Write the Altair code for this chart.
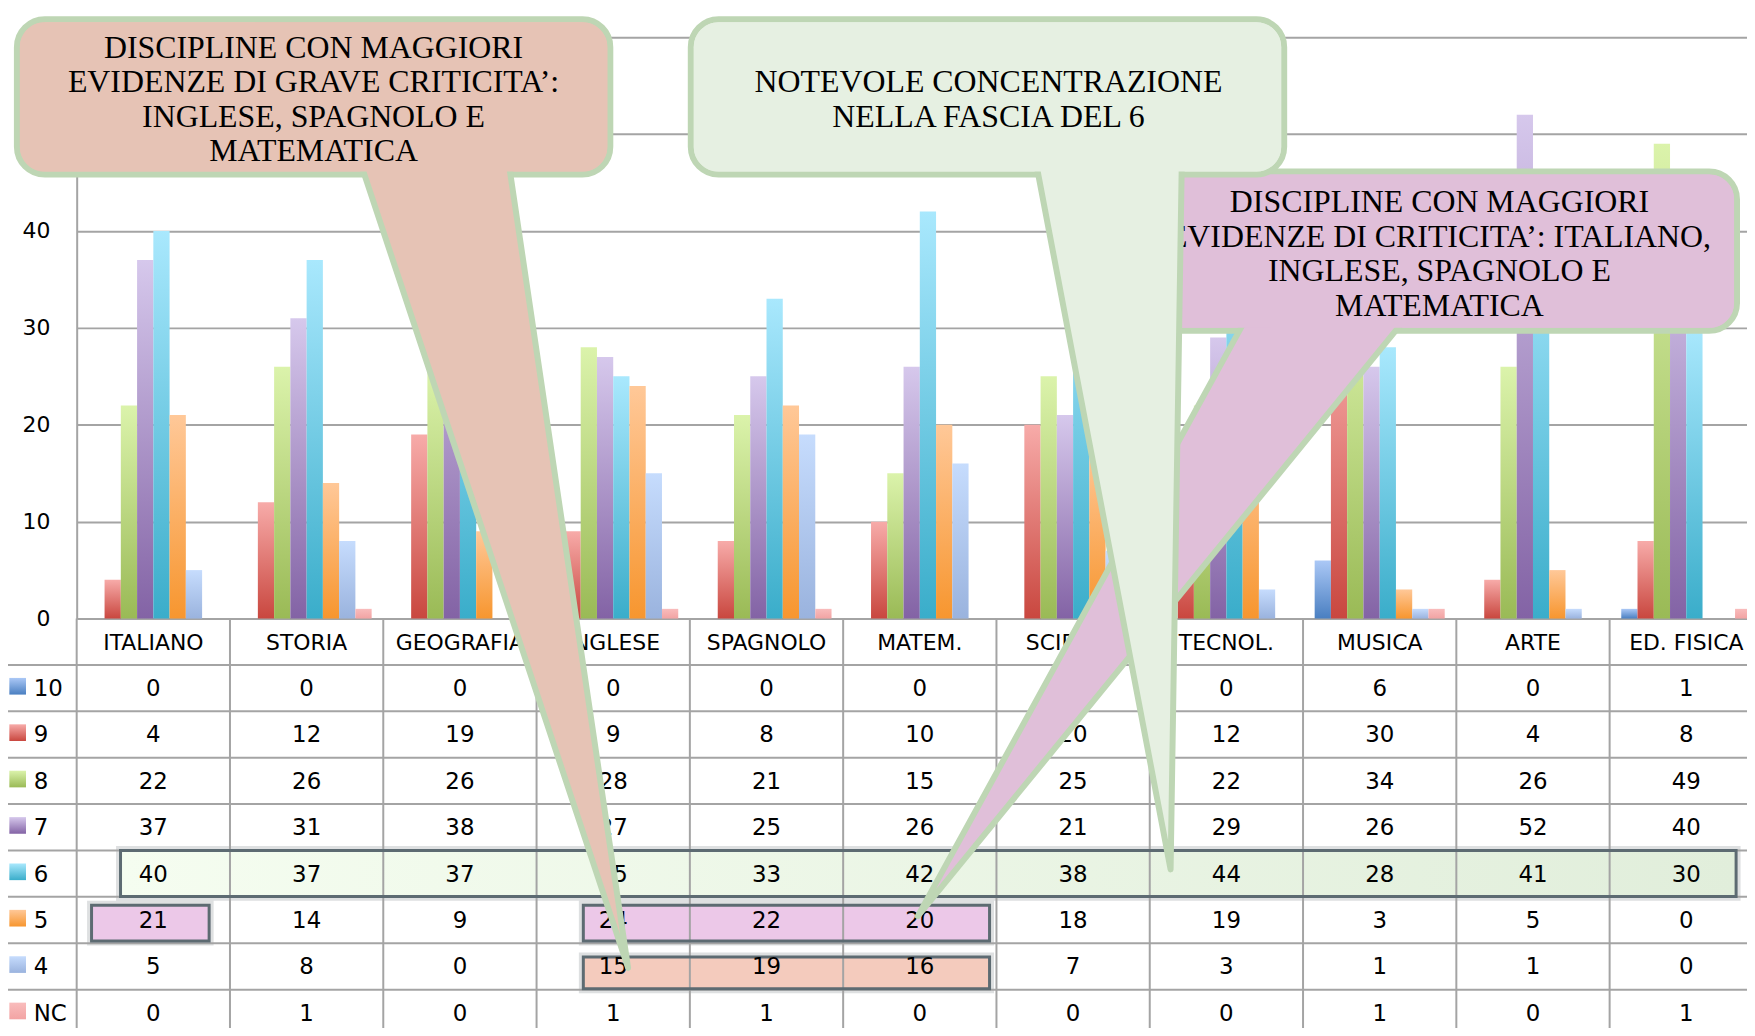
import altair as alt
import pandas as pd

# ---------------- data ----------------
CATS = ["ITALIANO", "STORIA", "GEOGRAFIA", "INGLESE", "SPAGNOLO", "MATEM.",
        "SCIENZE", "TECNOL.", "MUSICA", "ARTE", "ED. FISICA"]
GRADES = ["10", "9", "8", "7", "6", "5", "4", "NC"]
V10 = [0, 0, 0, 0, 0, 0, 0, 0, 6, 0, 1]
V9 = [4, 12, 19, 9, 8, 10, 20, 12, 30, 4, 8]
V8 = [22, 26, 26, 28, 21, 15, 25, 22, 34, 26, 49]
V7 = [37, 31, 38, 27, 25, 26, 21, 29, 26, 52, 40]
V6 = [40, 37, 37, 25, 33, 42, 38, 44, 28, 41, 30]
V5 = [21, 14, 9, 24, 22, 20, 18, 19, 3, 5, 0]
V4 = [5, 8, 0, 15, 19, 16, 7, 3, 1, 1, 0]
VNC = [0, 1, 0, 1, 1, 0, 0, 0, 1, 0, 1]
SERIES = [V10, V9, V8, V7, V6, V5, V4, VNC]
Y_TICKS = [0, 10, 20, 30, 40, 50, 60]

TEXT_SALMON = ["DISCIPLINE CON MAGGIORI", "EVIDENZE DI GRAVE CRITICITA\u2019:",
               "INGLESE, SPAGNOLO E", "MATEMATICA"]
TEXT_GREEN = ["NOTEVOLE CONCENTRAZIONE", "NELLA FASCIA DEL 6"]
TEXT_MAUVE = ["DISCIPLINE CON MAGGIORI", "EVIDENZE DI CRITICITA\u2019: ITALIANO,",
              "INGLESE,  SPAGNOLO E", "MATEMATICA"]

# ---------------- layout / style ----------------
W, H = 1678, 1020
COL_PX = 154.0
ROW_PX = 46.6
Y0 = 611.0
Y60 = 27.0
FONT = "DejaVu Sans"
SERIF = "Liberation Serif"
LINE = "#a4a4a4"
BORDER = "#bed6b4"
HL_STROKE = "#5d6b72"
LINE_H = 34.7

GRAD_COLORS = {
    "10": ("#abc8f6", "#4a7fc1"),
    "9": ("#f7aba9", "#c9473f"),
    "8": ("#dbf3ab", "#9aba56"),
    "7": ("#d6c8ec", "#8363a5"),
    "6": ("#a9e8fd", "#3aadca"),
    "5": ("#ffc898", "#f7962f"),
    "4": ("#c6dcfd", "#9ab3de"),
    "NC": ("#f9bcbc", "#f2a3a3"),
}


def vgrad(top, bottom):
    return {"gradient": "linear", "x1": 0, "y1": 0, "x2": 0, "y2": 1,
            "stops": [{"offset": 0, "color": top}, {"offset": 1, "color": bottom}]}


def hgrad(left, right):
    return {"gradient": "linear", "x1": 0, "y1": 0, "x2": 1, "y2": 0,
            "stops": [{"offset": 0, "color": left}, {"offset": 1, "color": right}]}


rows = []
for gi, (g, vals) in enumerate(zip(GRADES, SERIES)):
    for ci, (c, v) in enumerate(zip(CATS, vals)):
        rows.append(dict(cat=c, col=ci, grade=g, row=gi + 1, value=v))
df = pd.DataFrame(rows)

NCOL = len(CATS)
x_band = alt.Scale(domain=CATS, range=[0, COL_PX * NCOL], paddingInner=0, paddingOuter=0)
x_off = alt.Scale(domain=GRADES, paddingInner=0, paddingOuter=0.715)
y_val = alt.Scale(domain=[0, 60], range=[Y0, Y60], nice=False, zero=False)
x_col = alt.Scale(domain=[0, NCOL], range=[0, COL_PX * NCOL], nice=False, zero=False)
y_row = alt.Scale(domain=[0, 9], range=[Y0, Y0 + 9 * ROW_PX], nice=False, zero=False)

layers = []

# ---------------- bars ----------------
for i, g in enumerate(GRADES):
    if i == 0:
        yax = alt.Axis(values=Y_TICKS, grid=True, gridColor=LINE, gridWidth=2,
                       domain=True, domainColor=LINE, domainWidth=2, ticks=False,
                       labelPadding=27, labelFont=FONT, labelFontSize=22,
                       labelColor="#000000", title=None, labelFlush=False)
    else:
        yax = None
    layers.append(
        alt.Chart(df).transform_filter(alt.datum.grade == g)
        .mark_bar(fill=vgrad(*GRAD_COLORS[g]))
        .encode(x=alt.X("cat:N", scale=x_band, axis=None, sort=CATS),
                xOffset=alt.XOffset("grade:N", scale=x_off, sort=GRADES),
                y=alt.Y("value:Q", scale=y_val, axis=yax))
    )

# ---------------- table highlight fills (col / row units) ----------------
HL = pd.DataFrame([
    dict(x0=0.286, x1=10.825, y0=5.0, y1=5.99, kind="six"),
    dict(x0=0.097, x1=0.864, y0=6.181, y1=6.952, kind="mauve"),
    dict(x0=3.305, x1=5.955, y0=6.181, y1=6.952, kind="mauve"),
    dict(x0=3.305, x1=5.955, y0=7.296, y1=7.981, kind="salmon"),
])
HL_FILL = {"mauve": "#ecc8e8", "salmon": "#f4cbbd"}
# soft shadow
layers.append(
    alt.Chart(HL).mark_rect(fill="transparent", stroke="#6b7478", strokeWidth=9,
                            strokeOpacity=0.22)
    .encode(x=alt.X("x0:Q", scale=x_col, axis=None), x2="x1:Q",
            y=alt.Y("y0:Q", scale=y_row, axis=None), y2="y1:Q")
)
for k, col in HL_FILL.items():
    layers.append(
        alt.Chart(HL).transform_filter(alt.datum.kind == k).mark_rect(fill=col)
        .encode(x=alt.X("x0:Q", scale=x_col, axis=None), x2="x1:Q",
                y=alt.Y("y0:Q", scale=y_row, axis=None), y2="y1:Q")
    )
layers.append(
    alt.Chart(HL).transform_filter(alt.datum.kind == "six")
    .mark_rect(fill=hgrad("#f5fdf0", "#e1eedb"))
    .encode(x=alt.X("x0:Q", scale=x_col, axis=None), x2="x1:Q",
            y=alt.Y("y0:Q", scale=y_row, axis=None), y2="y1:Q")
)

# ---------------- table lines ----------------
hlines = pd.DataFrame({"r": list(range(1, len(GRADES) + 1)), "xa": -0.45, "xb": NCOL})
vlines = pd.DataFrame({"c": list(range(0, NCOL + 1)), "ya": 0, "yb": 9})
layers.append(
    alt.Chart(hlines).mark_rule(color=LINE, strokeWidth=2)
    .encode(x=alt.X("xa:Q", scale=x_col, axis=None), x2="xb:Q",
            y=alt.Y("r:Q", scale=y_row, axis=None))
)
layers.append(
    alt.Chart(vlines).mark_rule(color=LINE, strokeWidth=2)
    .encode(x=alt.X("c:Q", scale=x_col, axis=None),
            y=alt.Y("ya:Q", scale=y_row, axis=None), y2="yb:Q")
)

# highlight borders
layers.append(
    alt.Chart(HL).mark_rect(fill="transparent", stroke=HL_STROKE, strokeWidth=3)
    .encode(x=alt.X("x0:Q", scale=x_col, axis=None), x2="x1:Q",
            y=alt.Y("y0:Q", scale=y_row, axis=None), y2="y1:Q")
)

# ---------------- table text ----------------
layers.append(
    alt.Chart(df).transform_calculate(xc="datum.col + 0.5", yc="datum.row + 0.5")
    .mark_text(font=FONT, fontSize=23, color="#000000", baseline="middle", dy=1)
    .encode(x=alt.X("xc:Q", scale=x_col, axis=None),
            y=alt.Y("yc:Q", scale=y_row, axis=None),
            text="value:Q")
)
hdr = pd.DataFrame({"cat": CATS, "col": list(range(NCOL))})
layers.append(
    alt.Chart(hdr).transform_calculate(xc="datum.col + 0.5", yc="0.47")
    .mark_text(font=FONT, fontSize=22, color="#000000", baseline="middle", dy=3)
    .encode(x=alt.X("xc:Q", scale=x_col, axis=None),
            y=alt.Y("yc:Q", scale=y_row, axis=None),
            text="cat:N")
)
leg = pd.DataFrame({"grade": GRADES, "row": list(range(1, len(GRADES) + 1))})
layers.append(
    alt.Chart(leg).transform_calculate(xc="-0.28", yc="datum.row + 0.5")
    .mark_text(font=FONT, fontSize=23, color="#000000", baseline="middle", align="left", dy=1)
    .encode(x=alt.X("xc:Q", scale=x_col, axis=None),
            y=alt.Y("yc:Q", scale=y_row, axis=None),
            text="grade:N")
)
for g in GRADES:
    layers.append(
        alt.Chart(leg).transform_filter(alt.datum.grade == g)
        .transform_calculate(xc="-0.385", yc="datum.row + 0.46")
        .mark_square(fill=vgrad(*GRAD_COLORS[g]), size=280, opacity=1, strokeWidth=0)
        .encode(x=alt.X("xc:Q", scale=x_col, axis=None),
                y=alt.Y("yc:Q", scale=y_row, axis=None))
    )

# ---------------- callouts (col / row units) ----------------
CALLOUTS = [
    dict(fill="#e6c3b5", box=(-0.390, 3.481, -12.919, -9.571),
         base_y=-9.829, base=(1.851, 2.818), tip=(3.597, 7.532),
         center=(1.545, -11.232), text=TEXT_SALMON),
    dict(fill="#e0bfd9", box=(6.961, 10.831, -9.636, -6.202),
         base_y=-6.459, base=(7.627, 8.667), tip=(5.487, 6.416),
         center=(8.890, -7.897), text=TEXT_MAUVE),
    dict(fill="#e6f0e2", box=(4.006, 7.877, -12.919, -9.571),
         base_y=-9.829, base=(6.258, 7.209), tip=(7.136, 5.408),
         center=(5.948, -11.232), text=TEXT_GREEN),
]
for co in CALLOUTS:
    bx0, bx1, by0, by1 = co["box"]
    box = pd.DataFrame([dict(x0=bx0, x1=bx1, y0=by0, y1=by1)])
    ix, iy = 3 / COL_PX, 3 / ROW_PX
    inner = pd.DataFrame([dict(x0=bx0 + ix, x1=bx1 - ix, y0=by0 + iy, y1=by1 - iy)])
    tail = pd.DataFrame([
        dict(yy=co["base_y"], xa=co["base"][0], xb=co["base"][1]),
        dict(yy=co["tip"][1], xa=co["tip"][0], xb=co["tip"][0]),
    ])
    n = len(co["text"])
    txt = pd.DataFrame([
        dict(xc=co["center"][0],
             yc=co["center"][1] + (i - (n - 1) / 2) * LINE_H / ROW_PX,
             t=line)
        for i, line in enumerate(co["text"])
    ])
    layers.append(
        alt.Chart(box).mark_rect(fill=co["fill"], stroke=BORDER, strokeWidth=6, cornerRadius=28)
        .encode(x=alt.X("x0:Q", scale=x_col, axis=None), x2="x1:Q",
                y=alt.Y("y0:Q", scale=y_row, axis=None), y2="y1:Q")
    )
    layers.append(
        alt.Chart(tail).mark_area(orient="horizontal", fill=co["fill"], stroke=BORDER,
                                  strokeWidth=6, strokeJoin="round", opacity=1)
        .encode(y=alt.Y("yy:Q", scale=y_row, axis=None),
                x=alt.X("xa:Q", scale=x_col, axis=None), x2="xb:Q")
    )
    layers.append(
        alt.Chart(inner).mark_rect(fill=co["fill"], cornerRadius=25)
        .encode(x=alt.X("x0:Q", scale=x_col, axis=None), x2="x1:Q",
                y=alt.Y("y0:Q", scale=y_row, axis=None), y2="y1:Q")
    )
    layers.append(
        alt.Chart(txt).mark_text(font=SERIF, fontSize=32, color="#000000",
                                 baseline="middle", align="center", dy=2)
        .encode(x=alt.X("xc:Q", scale=x_col, axis=None),
                y=alt.Y("yc:Q", scale=y_row, axis=None), text="t:N")
    )

chart = (
    alt.layer(*layers)
    .resolve_scale(x="independent", y="independent")
    .properties(width=W, height=H, autosize=alt.AutoSizeParams(type="none"),
                padding={"left": 69, "top": 0, "right": 0, "bottom": 0},
                background="white")
    .configure_view(stroke=None)
)

chart.save("out.html", embed_options={"renderer": "svg", "actions": False})
